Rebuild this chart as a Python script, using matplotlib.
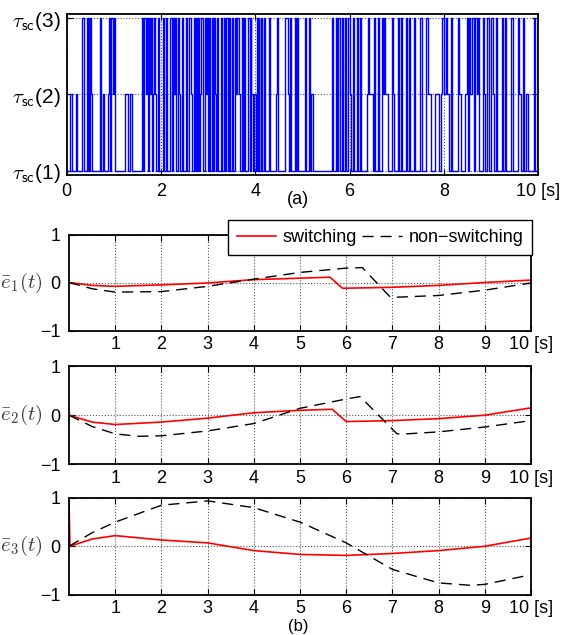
import matplotlib
matplotlib.use("Agg")
import matplotlib.pyplot as plt
import numpy as np

plt.rcParams['font.family'] = ['Liberation Sans', 'DejaVu Sans']
plt.rcParams['mathtext.fontset'] = 'cm'

# switching signal: (time of change, new level)
switch_t = [0.00, 0.07, 0.12, 0.20, 0.23, 0.33, 0.37, 0.43, 0.45, 0.46, 0.48, 0.49, 0.52, 0.54,
            0.70, 0.74, 0.77, 0.79, 0.89, 0.91, 0.93, 0.95, 0.98, 1.00, 1.03, 1.25, 1.30, 1.35,
            1.39, 1.60, 1.63, 1.64, 1.68, 1.70, 1.72, 1.74, 1.77, 1.79, 1.81, 1.83, 1.86, 1.88,
            1.90, 1.93, 1.95, 2.04, 2.07, 2.10, 2.12, 2.14, 2.20, 2.23, 2.25, 2.27, 2.30, 2.33,
            2.36, 2.38, 2.40, 2.44, 2.47, 2.54, 2.56, 2.60, 2.63, 2.66, 2.70, 2.72, 2.74, 2.76,
            2.78, 2.81, 2.83, 2.86, 2.89, 2.93, 2.95, 2.98, 3.00, 3.03, 3.05, 3.08, 3.10, 3.13,
            3.15, 3.17, 3.20, 3.22, 3.28, 3.30, 3.34, 3.36, 3.39, 3.42, 3.44, 3.46, 3.50, 3.52,
            3.58, 3.60, 3.62, 3.66, 3.68, 3.71, 3.74, 3.76, 3.78, 3.85, 3.88, 3.90, 3.92, 3.96,
            3.98, 4.01, 4.03, 4.05, 4.07, 4.09, 4.12, 4.14, 4.18, 4.20, 4.30, 4.32, 4.44, 4.46,
            4.48, 4.64, 4.70, 4.72, 4.74, 4.76, 4.84, 4.86, 4.88, 4.90, 5.06, 5.08, 5.13, 5.16,
            5.19, 5.23, 5.62, 5.64, 5.72, 5.74, 5.76, 5.80, 5.84, 5.86, 5.90, 5.92, 5.96, 6.00,
            6.03, 6.08, 6.10, 6.16, 6.18, 6.23, 6.25, 6.36, 6.38, 6.42, 6.49, 6.52, 6.54, 6.60,
            6.62, 6.68, 6.70, 6.74, 6.76, 6.82, 6.89, 6.91, 6.94, 7.02, 7.04, 7.10, 7.12, 7.20,
            7.22, 7.26, 7.28, 7.37, 7.39, 7.49, 7.53, 7.61, 7.63, 7.67, 7.72, 7.80, 7.90, 7.93,
            7.96, 8.00, 8.04, 8.06, 8.10, 8.16, 8.18, 8.30, 8.32, 8.36, 8.44, 8.48, 8.50, 8.54,
            8.56, 8.60, 8.64, 8.66, 8.70, 8.72, 8.74, 8.82, 8.85, 8.88, 8.92, 8.95, 9.00, 9.03,
            9.06, 9.10, 9.13, 9.23, 9.25, 9.30, 9.32, 9.43, 9.46, 9.57, 9.59, 9.63, 9.68, 9.70,
            9.74, 9.78, 9.90, 9.94, 10.0]
switch_lvl = [1, 2, 1, 2, 1, 3, 1, 3, 1, 3, 1, 3, 2, 1,
              3, 1, 2, 1, 2, 3, 1, 3, 2, 3, 1, 2, 1, 2,
              1, 3, 1, 3, 2, 3, 1, 3, 2, 3, 1, 2, 3, 2,
              1, 3, 1, 3, 1, 3, 2, 1, 3, 1, 3, 2, 3, 1,
              3, 2, 1, 3, 1, 3, 1, 3, 2, 1, 3, 1, 3, 1,
              3, 1, 2, 3, 1, 3, 2, 3, 1, 3, 1, 3, 1, 3,
              2, 1, 3, 1, 3, 1, 3, 1, 3, 1, 3, 1, 3, 1,
              3, 2, 3, 2, 1, 3, 1, 3, 1, 3, 1, 3, 2, 1,
              2, 1, 3, 1, 3, 1, 3, 1, 3, 1, 3, 1, 2, 3,
              1, 3, 2, 1, 3, 1, 3, 1, 3, 1, 3, 1, 3, 1,
              2, 1, 3, 1, 3, 1, 3, 1, 3, 1, 3, 1, 3, 2,
              1, 3, 1, 3, 1, 3, 1, 2, 3, 2, 1, 3, 1, 3,
              1, 3, 2, 3, 2, 1, 3, 2, 1, 3, 1, 3, 1, 3,
              1, 3, 1, 3, 1, 3, 1, 2, 3, 2, 1, 2, 1, 2,
              3, 2, 3, 2, 1, 3, 1, 3, 2, 1, 2, 3, 1, 3,
              2, 3, 1, 3, 2, 3, 1, 3, 2, 1, 3, 1, 3, 2,
              1, 3, 1, 3, 1, 3, 1, 3, 1, 3, 2, 1, 3, 1,
              2, 1, 3, 1, 1]

# error trajectories
e1_sw_t = [0, 0.5, 1, 2, 3, 4, 5, 5.65, 5.92, 7, 8, 9, 10]
e1_sw = [0, -0.06, -0.08, -0.05, -0.01, 0.06, 0.09, 0.11, -0.12, -0.10, -0.06, 0.0, 0.05]
e1_ns_t = [0, 0.5, 1, 2, 3, 4, 5, 6, 6.35, 6.95, 7, 8, 9, 10]
e1_ns = [0, -0.13, -0.20, -0.19, -0.08, 0.07, 0.21, 0.30, 0.31, -0.30, -0.31, -0.27, -0.16, -0.01]

e2_sw_t = [0, 0.5, 1, 2, 3, 4, 5, 5.7, 6.0, 7, 8, 9, 10]
e2_sw = [0, -0.14, -0.19, -0.14, -0.06, 0.05, 0.10, 0.12, -0.13, -0.11, -0.07, 0.0, 0.15]
e2_ns_t = [0, 0.5, 1, 1.5, 2, 3, 4, 5, 6, 6.3, 7.1, 7.3, 8, 9, 10]
e2_ns = [0, -0.23, -0.38, -0.43, -0.42, -0.32, -0.17, 0.14, 0.33, 0.38, -0.38, -0.38, -0.34, -0.24, -0.11]

e3_sw_t = [0, 0.02, 0.5, 1, 2, 3, 4, 5, 6, 7, 8, 9, 10]
e3_sw = [0.98, 0.0, 0.15, 0.22, 0.13, 0.07, -0.09, -0.17, -0.19, -0.15, -0.09, 0.0, 0.17]
e3_ns_t = [0, 0.5, 1, 2, 3, 4, 5, 6, 7, 8, 8.7, 9, 10]
e3_ns = [0, 0.28, 0.50, 0.85, 0.94, 0.80, 0.50, 0.07, -0.48, -0.76, -0.81, -0.79, -0.59]

e_labels = [r'$\bar{e}_1(t)$', r'$\bar{e}_2(t)$', r'$\bar{e}_3(t)$']

W, H = 561, 635
fig = plt.figure(figsize=(W / 100, H / 100), dpi=100)


def box(l, t, r, b):
    return [l / W, 1 - b / H, (r - l) / W, (b - t) / H]


def style(ax):
    ax.tick_params(direction='in', top=True, right=True, labelsize=13, length=4, width=0.8,
                   pad=6, colors='black')
    for s in ax.spines.values():
        s.set_linewidth(1.3)
    ax.grid(True, linestyle=':', color='#555555', linewidth=0.8)


# (a) switching signal
ax0 = fig.add_axes(box(66.5, 14.4, 538.3, 175.1))
ax0.step(switch_t, switch_lvl, where='post', color='#0000ff', linewidth=1.0)
ax0.set_xlim(0, 10)
ax0.set_ylim(0.94, 3.05)
ax0.set_xticks([0, 2, 4, 6, 8, 10])
ax0.set_xticklabels(['0', '2', '4', '6', '8', '10 [s]'])
ax0.set_yticks([1, 2, 3])
ax0.set_yticklabels([r'$\tau_{\mathsf{sc}}$(1)', r'$\tau_{\mathsf{sc}}$(2)', r'$\tau_{\mathsf{sc}}$(3)'],
                    fontsize=15)
style(ax0)
ax0.tick_params(axis='y', labelsize=15, pad=4)
fig.text(298 / W, 1 - 199 / H, '(a)', ha='center', va='center', fontsize=13)

# (b) error trajectories
boxes = [(69, 234.5, 531, 330.5), (69, 366.1, 531, 464.3), (69, 498, 531, 594.5)]
sw = [(e1_sw_t, e1_sw), (e2_sw_t, e2_sw), (e3_sw_t, e3_sw)]
ns = [(e1_ns_t, e1_ns), (e2_ns_t, e2_ns), (e3_ns_t, e3_ns)]

for i in range(3):
    ax = fig.add_axes(box(*boxes[i]))
    l1, = ax.plot(sw[i][0], sw[i][1], color='#ff0000', linewidth=1.2, label='switching')
    l2, = ax.plot(ns[i][0], ns[i][1], color='black', linewidth=1.0, dashes=(8, 5),
                  label='non\u2212switching')
    ax.set_xlim(0, 10)
    ax.set_ylim(-1, 1)
    ax.set_xticks(range(1, 11))
    ax.set_xticklabels([str(k) for k in range(1, 10)] + ['10 [s]'])
    ax.set_yticks([-1, 0, 1])
    ax.set_yticklabels(['\u22121', '0', '1'])
    style(ax)
    ax.tick_params(axis='x', pad=4)
    ax.set_ylabel(e_labels[i], rotation=0, fontsize=15, color='#3a3a3a', ha='center', va='center')
    ax.yaxis.set_label_coords(-0.103, 0.5)
    if i == 0:
        leg = ax.legend(handles=[l1, l2], loc='upper right', bbox_to_anchor=(1.003, 1.15), ncol=2,
                        fontsize=13, frameon=True, fancybox=False, handlelength=2.2,
                        columnspacing=0.3, handletextpad=0.35, borderpad=0.5,
                        borderaxespad=0.0, framealpha=1)
        leg.get_frame().set_edgecolor('black')
        leg.get_frame().set_linewidth(1.0)

fig.text(298 / W, 1 - 631 / H, '(b)', ha='center', va='baseline', fontsize=12)

fig.savefig('out.png', dpi=100)
